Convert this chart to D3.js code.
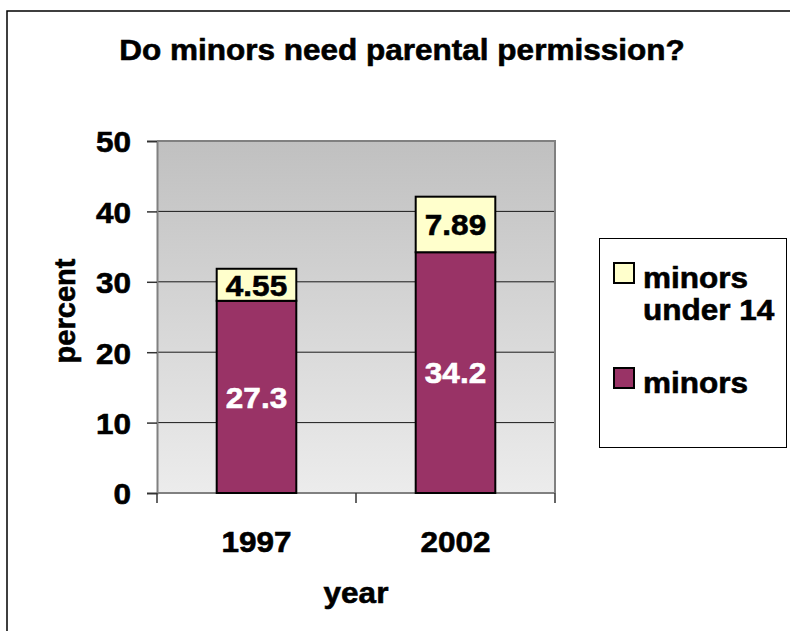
<!DOCTYPE html>
<html>
<head>
<meta charset="utf-8">
<script src="https://cdn.jsdelivr.net/npm/d3@7"></script>
<style>
  html, body { margin: 0; padding: 0; background: #fff; }
  svg { display: block; }
  text { font-family: "Liberation Sans", Arial, sans-serif; font-weight: bold; }
</style>
</head>
<body>
<svg id="chart" width="790" height="631"></svg>
<script>
// Survey results by year (percent)
const years = ["1997", "2002"];
const minors = [27.3, 34.2];
const minorsUnder14 = [4.55, 7.89];
const seriesNames = ["minors under 14", "minors"];
const yTicks = [0, 10, 20, 30, 40, 50];

const svg = d3.select("#chart");
const W = 790, H = 631;
const plot = { left: 157, right: 555, top: 141, bottom: 493 };
const FS = 30;       // base font size
const WIDEN = 1.05;  // horizontal widening of the bold labels

// heavier bold strokes plus a little horizontal widening, keeping the anchor
function widen(sel) {
  sel.each(function () {
    const t = d3.select(this);
    const fill = t.attr("fill") || "#000";
    t.attr("stroke", fill).attr("stroke-width", 0.6);
    const len = this.getComputedTextLength();
    t.attr("textLength", len * WIDEN).attr("lengthAdjust", "spacingAndGlyphs");
  });
}

// outer frame (top and left edges)
svg.append("path")
  .attr("d", `M7,${H} L7,11 L${W},11`)
  .attr("fill", "none").attr("stroke", "#000").attr("stroke-width", 1.5);

// title
svg.append("text")
  .attr("x", 402).attr("y", 60)
  .attr("text-anchor", "middle").attr("font-size", FS)
  .text("Do minors need parental permission?")
  .call(widen);

const y = d3.scaleLinear().domain([0, 50]).range([plot.bottom, plot.top]);
const x = d3.scaleBand().domain(years).range([plot.left, plot.right])
  .paddingInner(0.6).paddingOuter(0.3);

// plot background gradient
const defs = svg.append("defs");
const grad = defs.append("linearGradient").attr("id", "bg")
  .attr("x1", 0).attr("y1", 0).attr("x2", 0).attr("y2", 1);
grad.append("stop").attr("offset", "0%").attr("stop-color", "#c0c0c0");
grad.append("stop").attr("offset", "100%").attr("stop-color", "#ececec");

svg.append("rect")
  .attr("x", plot.left).attr("y", plot.top)
  .attr("width", plot.right - plot.left).attr("height", plot.bottom - plot.top)
  .attr("fill", "url(#bg)");

// horizontal gridlines
svg.append("g").selectAll("line")
  .data(yTicks.filter(t => t > 0 && t < 50))
  .join("line")
  .attr("x1", plot.left).attr("x2", plot.right)
  .attr("y1", d => y(d)).attr("y2", d => y(d))
  .attr("stroke", "#1a1a1a").attr("stroke-width", 1);

// plot frame (top and right)
svg.append("path")
  .attr("d", `M${plot.left},${plot.top} L${plot.right},${plot.top} L${plot.right},${plot.bottom}`)
  .attr("fill", "none").attr("stroke", "#808080").attr("stroke-width", 2);

// y axis
const yAxis = svg.append("g").attr("transform", `translate(${plot.left},0)`)
  .call(d3.axisLeft(y).tickValues(yTicks).tickSize(10).tickPadding(16).tickFormat(d3.format("d")));
yAxis.select(".domain").attr("stroke", "#808080").attr("stroke-width", 2);
yAxis.selectAll(".tick line").attr("stroke", "#333").attr("stroke-width", 1.5);
yAxis.selectAll(".tick text")
  .attr("font-size", FS).attr("fill", "#000")
  .attr("font-family", "Liberation Sans, Arial, sans-serif").attr("font-weight", "bold")
  .attr("dy", "0.36em")
  .call(widen);

// x axis: ticks sit on category boundaries
const bounds = d3.range(years.length + 1).map(i => plot.left + i * x.step());
const xAxis = svg.append("g");
xAxis.append("line")
  .attr("x1", plot.left).attr("x2", plot.right)
  .attr("y1", plot.bottom).attr("y2", plot.bottom)
  .attr("stroke", "#808080").attr("stroke-width", 2);
xAxis.selectAll("line.tk").data(bounds).join("line").attr("class", "tk")
  .attr("x1", d => d).attr("x2", d => d)
  .attr("y1", plot.bottom).attr("y2", plot.bottom + 10)
  .attr("stroke", "#333").attr("stroke-width", 1.5);
xAxis.selectAll("text").data(years).join("text")
  .attr("x", d => x(d) + x.bandwidth() / 2).attr("y", 552)
  .attr("text-anchor", "middle").attr("font-size", FS)
  .text(d => d)
  .call(widen);

// axis titles
svg.append("text")
  .attr("x", 356).attr("y", 603)
  .attr("text-anchor", "middle").attr("font-size", FS)
  .text("year")
  .call(widen);
svg.append("text")
  .attr("transform", "translate(75,311) rotate(-90)")
  .attr("text-anchor", "middle").attr("font-size", 29)
  .attr("stroke", "#000").attr("stroke-width", 0.6)
  .text("percent");

// stacked bars
const rows = years.map((yr, i) => ({ year: yr, minors: minors[i], under14: minorsUnder14[i] }));
const stack = d3.stack().keys(["minors", "under14"])(rows);
const colors = { minors: "#993366", under14: "#ffffcc" };
const labelColors = { minors: "#ffffff", under14: "#000000" };

const layers = svg.append("g").selectAll("g").data(stack).join("g");
layers.selectAll("rect").data(d => d.map(p => ({ key: d.key, p })))
  .join("rect")
  .attr("x", d => x(d.p.data.year))
  .attr("width", x.bandwidth())
  .attr("y", d => y(d.p[1]))
  .attr("height", d => y(d.p[0]) - y(d.p[1]))
  .attr("fill", d => colors[d.key])
  .attr("stroke", "#000").attr("stroke-width", 2);

layers.selectAll("text").data(d => d.map(p => ({ key: d.key, p })))
  .join("text")
  .attr("x", d => x(d.p.data.year) + x.bandwidth() / 2)
  .attr("y", d => (y(d.p[0]) + y(d.p[1])) / 2)
  .attr("dy", "0.36em")
  .attr("text-anchor", "middle").attr("font-size", FS)
  .attr("fill", d => labelColors[d.key])
  .text(d => String(d.p.data[d.key]))
  .call(widen);

// legend
const lg = svg.append("g");
lg.append("rect")
  .attr("x", 599.5).attr("y", 238.5).attr("width", 187).attr("height", 209)
  .attr("fill", "#fff").attr("stroke", "#000").attr("stroke-width", 1);
const legendItems = [
  { name: seriesNames[0], color: colors.under14, lines: ["minors", "under 14"], y: 262 },
  { name: seriesNames[1], color: colors.minors, lines: ["minors"], y: 367 }
];
legendItems.forEach(it => {
  lg.append("rect")
    .attr("x", 614).attr("y", it.y + 1).attr("width", 20).attr("height", 20)
    .attr("fill", it.color).attr("stroke", "#000").attr("stroke-width", 2);
  it.lines.forEach((ln, j) => {
    lg.append("text")
      .attr("x", 643).attr("y", it.y + 26 + j * 32)
      .attr("font-size", FS)
      .text(ln)
      .call(widen);
  });
});
</script>
</body>
</html>
